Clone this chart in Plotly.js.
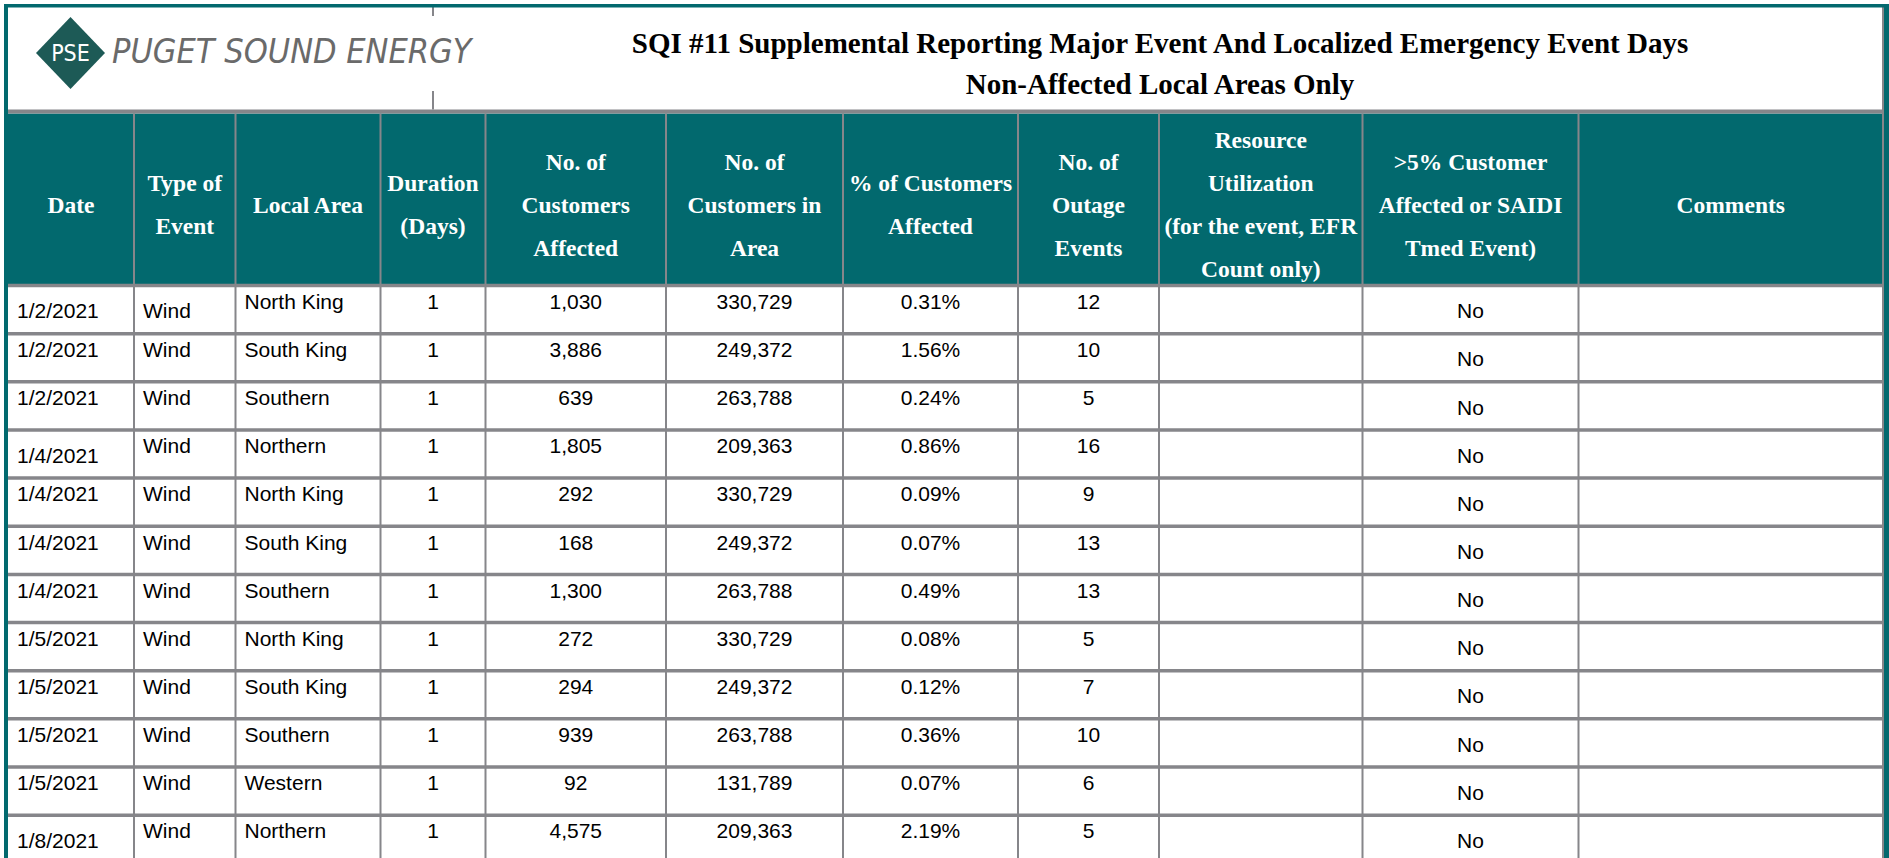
<!DOCTYPE html>
<html><head><meta charset="utf-8">
<script src="https://cdn.plot.ly/plotly-3.0.1.min.js"></script>
<style>html,body{margin:0;padding:0;background:#fff;overflow:hidden}#chart{width:1889px;height:858px}</style>
</head><body><div id="chart"></div>
<script>
// ---------------- data ----------------
const titleLines = ["SQI #11 Supplemental Reporting Major Event And Localized Emergency Event Days", "Non-Affected Local Areas Only"];
const logoMark = "PSE";
const logoName = "PUGET SOUND ENERGY";
const headerLabels = [
  ["Date"],
  ["Type of", "Event"],
  ["Local Area"],
  ["Duration", "(Days)"],
  ["No. of", "Customers", "Affected"],
  ["No. of", "Customers in", "Area"],
  ["% of Customers", "Affected"],
  ["No. of", "Outage", "Events"],
  ["Resource", "Utilization", "(for the event, EFR", "Count only)"],
  [">5% Customer", "Affected or SAIDI", "Tmed Event)"],
  ["Comments"]
];
const dates = ["1/2/2021","1/2/2021","1/2/2021","1/4/2021","1/4/2021","1/4/2021","1/4/2021","1/5/2021","1/5/2021","1/5/2021","1/5/2021","1/8/2021"];
const eventTypes = ["Wind","Wind","Wind","Wind","Wind","Wind","Wind","Wind","Wind","Wind","Wind","Wind"];
const localAreas = ["North King","South King","Southern","Northern","North King","South King","Southern","North King","South King","Southern","Western","Northern"];
const durationDays = [1,1,1,1,1,1,1,1,1,1,1,1];
const customersAffected = [1030,3886,639,1805,292,168,1300,272,294,939,92,4575];
const customersInArea = [330729,249372,263788,209363,330729,249372,263788,330729,249372,263788,131789,209363];
const pctAffected = [0.31,1.56,0.24,0.86,0.09,0.07,0.49,0.08,0.12,0.36,0.07,2.19];
const outageEvents = [12,10,5,16,9,13,13,5,7,10,6,5];
const resourceUtilization = ["","","","","","","","","","","",""];
const over5pctOrSaidi = ["No","No","No","No","No","No","No","No","No","No","No","No"];
const comments = ["","","","","","","","","","","",""];

// ---------------- style / layout ----------------
const W = 1889, H = 858;
const TEAL = "#02696e", GRAY = "#86868a", DIAMOND = "#1d5a56", LOGOGRAY = "#6a6a6a";
const colEdges = [8, 134, 235.5, 380.5, 485.5, 666, 843, 1018, 1159, 1362.5, 1578.5, 1883];
const colAlign = ["left","left","left","center","center","center","center","center","center","center","center"];
const headTop = 113.5, headBottom = 284, headMid = 207, headLineGap = 43;
const rowLine0 = 285.5, rowPitch = 48.15;
const offTop = 18, offMid = 27.5;
// cells whose text sits lower in the cell (column index -> row indices); column 9 all rows
const lowCells = {0: [0, 3, 11], 1: [0]};
const SERIF = "Liberation Serif, Times New Roman, serif";
const SANS = "Liberation Sans, Arial, sans-serif";
const NARROW = "Liberation Sans Narrow, Arial Narrow, DejaVu Sans Condensed, sans-serif";

const fmtInt = v => v.toLocaleString("en-US");
const bodyCols = [
  dates, eventTypes, localAreas,
  durationDays.map(String),
  customersAffected.map(fmtInt),
  customersInArea.map(fmtInt),
  pctAffected.map(v => v.toFixed(2) + "%"),
  outageEvents.map(String),
  resourceUtilization, over5pctOrSaidi, comments
];

const lineY = i => rowLine0 + i * rowPitch;
const colX = c => colAlign[c] === "left" ? colEdges[c] + 9 : (colEdges[c] + colEdges[c + 1]) / 2;

const traces = [];
// title
traces.push({
  type: "scatter", mode: "text", x: titleLines.map(() => 1160), y: [46, 86.5],
  text: titleLines, textposition: "middle center",
  textfont: {family: SERIF, size: 29, color: "#000", weight: "bold"},
  hoverinfo: "skip", cliponaxis: false
});
// logo text
traces.push({
  type: "scatter", mode: "text", x: [70.5], y: [55.5], text: [logoMark], textposition: "middle center",
  textfont: {family: NARROW, size: 23, color: "#fff"}, hoverinfo: "skip", cliponaxis: false
});
traces.push({
  type: "scatter", mode: "text", x: [112], y: [54], text: [logoName], textposition: "middle right",
  textfont: {family: NARROW, size: 34, color: LOGOGRAY, style: "italic"}, hoverinfo: "skip", cliponaxis: false
});
// header
const hx = [], hy = [], ht = [];
headerLabels.forEach((lines, c) => {
  const n = lines.length;
  lines.forEach((t, k) => {
    hx.push((colEdges[c] + colEdges[c + 1]) / 2);
    hy.push(headMid + (k - (n - 1) / 2) * headLineGap);
    ht.push(t);
  });
});
traces.push({
  type: "scatter", mode: "text", x: hx, y: hy, text: ht, textposition: "middle center",
  textfont: {family: SERIF, size: 23.5, color: "#fff", weight: "bold"}, hoverinfo: "skip", cliponaxis: false
});
// body cells
bodyCols.forEach((vals, c) => {
  if (vals.every(v => v === "")) return;
  const low = lowCells[c] || [];
  traces.push({
    type: "scatter", mode: "text",
    x: vals.map(() => colX(c)),
    y: vals.map((v, i) => lineY(i) + ((c === 9 || low.includes(i)) ? offMid : offTop)),
    text: vals,
    textposition: colAlign[c] === "left" ? "middle right" : "middle center",
    textfont: {family: SANS, size: 21, color: "#000"},
    hoverinfo: "skip", cliponaxis: false
  });
});

// shapes: frame, header band, grid lines, logo diamond
const shapes = [];
const rect = (x0, x1, y0, y1, color) => shapes.push({type: "rect", layer: "below", xref: "x", yref: "y", x0, x1, y0, y1, fillcolor: color, line: {width: 0}});
const vline = (x, y0, y1, color, w) => shapes.push({type: "line", layer: "below", xref: "x", yref: "y", x0: x, x1: x, y0, y1, line: {color, width: w}});
rect(8, 1883, headTop, headBottom, TEAL);
rect(8, 1883, 109.5, headTop, GRAY);
for (let i = 0; i <= 12; i++) rect(8, 1883, lineY(i) - 1.75, lineY(i) + 1.75, GRAY);
colEdges.slice(1, -1).forEach(x => vline(x, headTop, H, GRAY, 2));
vline(1883, 7, H, GRAY, 2);
vline(433, 7, 16, GRAY, 2);
vline(433, 91, 109.5, GRAY, 2);
rect(4, 1889, 4, 7.5, TEAL);
rect(4, 8, 4, H, TEAL);
rect(1884, 1889, 4, H, TEAL);
shapes.push({type: "path", layer: "below", xref: "x", yref: "y",
  path: "M 36 53 L 70.5 17 L 105 53 L 70.5 89 Z", fillcolor: DIAMOND, line: {width: 0}});

const layout = {
  width: W, height: H, margin: {l: 0, r: 0, t: 0, b: 0, pad: 0},
  paper_bgcolor: "#fff", plot_bgcolor: "#fff", showlegend: false,
  xaxis: {range: [0, W], visible: false, fixedrange: true},
  yaxis: {range: [H, 0], visible: false, fixedrange: true},
  shapes: shapes
};
Plotly.newPlot("chart", traces, layout, {staticPlot: true, displayModeBar: false});
</script>
</body></html>
